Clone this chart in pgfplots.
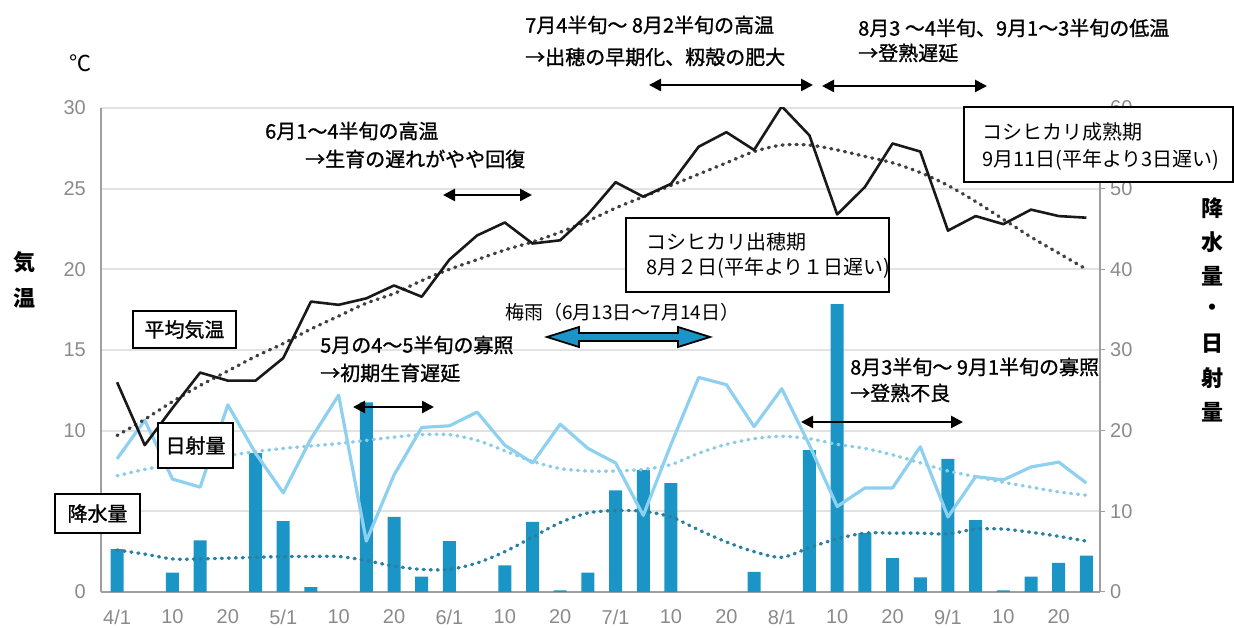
\documentclass[border=0pt]{standalone}
\usepackage{fontspec}
\setmainfont{Liberation Sans}
\newfontfamily\jp{Noto Sans CJK JP}
\newfontfamily\jpm[FakeBold=1.1]{Noto Sans CJK JP}
\usepackage{pgfplots}
\pgfplotsset{compat=1.18}
\usetikzlibrary{arrows.meta}
\definecolor{barblue}{HTML}{1A95C5}
\definecolor{lightblue}{HTML}{8ED0F0}
\definecolor{lbdot}{HTML}{8CCDE6}
\definecolor{dkdot}{HTML}{2A80A0}
\definecolor{ticklab}{HTML}{8A8A8A}
\definecolor{gridc}{HTML}{E2E2E2}
\tikzset{
  mydots/.style={solid, line width=3.4pt, dash pattern=on 1pt off 6pt, line cap=round},
  ann/.style={anchor=west, inner sep=0pt, font=\jpm\fontsize{20pt}{24pt}\selectfont},
  darr/.style={{Triangle[length=12pt,width=12pt]}-{Triangle[length=12pt,width=12pt]}, line width=2.6pt, black},
  lbox/.style={draw=black, line width=1.5pt, fill=white},
}
\pgfplotsset{
  base/.style={scale only axis, width=999pt, height=484pt, at={(101pt,36pt)}, anchor=south west,
    xmin=-0.58, xmax=35.49, ymin=0,
    /pgf/number format/assume math mode=true,
    ticklabel style={font=\fontsize{20pt}{24pt}\selectfont, text=ticklab},
  }
}
\begin{document}
\begin{tikzpicture}
\path[use as bounding box] (0,0) rectangle (1234pt,628pt);
% right axis: precipitation and solar radiation
\begin{axis}[base, ymax=60,
  axis y line*=right, axis x line*=bottom,
  axis line style={draw=gray!75, line width=1.3pt},
  ytick={0,10,...,60}, ymajorgrids, grid style={draw=gridc, line width=1.8pt},
  ytick style={draw=gray!75, line width=1pt}, major tick length=5pt, tick align=outside,
  yticklabel style={anchor=west, inner sep=0pt, xshift=5pt},
  xtick={0,2,...,34}, xtick style={draw=none},
  xticklabels={4/1,10,20,5/1,10,20,6/1,10,20,7/1,10,20,8/1,10,20,9/1,10,20},
  xticklabel style={anchor=center, inner sep=0pt, yshift=-20pt},
]
\addplot[ybar, bar width=13pt, fill=barblue, draw=none] coordinates {
 (0,5.3) (2,2.4) (3,6.4) (5,17.2) (6,8.8) (7,0.6) (9,23.5) (10,9.3) (11,1.9) (12,6.3)
 (14,3.3) (15,8.7) (16,0.2) (17,2.4) (18,12.6) (19,15.1) (20,13.5) (23,2.5) (25,17.6)
 (26,35.7) (27,7.3) (28,4.2) (29,1.8) (30,16.5) (31,8.9) (32,0.2) (33,1.9) (34,3.6) (35,4.5)};
% solar radiation normal
\addplot[lbdot, mydots, smooth] coordinates {
 (0,14.4) (1,15.2) (2,15.8) (3,16.3) (4,16.9) (5,17.4) (6,17.8) (7,18.1) (8,18.4) (9,18.8)
 (10,19.2) (11,19.5) (12,19.5) (13,18.8) (14,17.5) (15,16.2) (16,15.3) (17,15.0) (18,15.0)
 (19,15.2) (20,15.8) (21,17.2) (22,18.3) (23,19.0) (24,19.3) (25,19.0) (26,18.3) (27,17.8)
 (28,17.0) (29,16.0) (30,15.0) (31,14.3) (32,13.6) (33,13.0) (34,12.4) (35,12.0)};
% precipitation normal
\addplot[dkdot, mydots, smooth] coordinates {
 (0,5.2) (1,4.7) (2,4.1) (3,4.1) (4,4.2) (5,4.3) (6,4.4) (7,4.4) (8,4.4) (9,3.9)
 (10,3.2) (11,2.8) (12,2.8) (13,3.6) (14,5.0) (15,6.8) (16,8.6) (17,9.8) (18,10.1)
 (19,10.0) (20,9.3) (21,7.7) (22,6.2) (23,5.0) (24,4.3) (25,5.5) (26,6.6) (27,7.3)
 (28,7.3) (29,7.3) (30,7.2) (31,7.8) (32,7.8) (33,7.4) (34,6.9) (35,6.3)};
% solar radiation
\addplot[lightblue, line width=3.2pt, line join=round] coordinates {
 (0,16.5) (1,21.3) (2,14.0) (3,13.0) (4,23.2) (5,17.2) (6,12.3) (7,19.0) (8,24.4) (9,6.3)
 (10,14.5) (11,20.4) (12,20.6) (13,22.3) (14,18.2) (15,16.0) (16,20.8) (17,17.8) (18,16.0)
 (19,9.5) (20,18.3) (21,26.6) (22,25.7) (23,20.5) (24,25.2) (25,18.2) (26,10.6) (27,12.9)
 (28,12.9) (29,18.0) (30,9.3) (31,14.3) (32,13.9) (33,15.5) (34,16.1) (35,13.5)};
\end{axis}
% left axis: temperature
\begin{axis}[base, ymax=30,
  axis y line*=left, axis x line=none,
  axis line style={draw=gray!75, line width=1.3pt},
  ytick={0,10,15,20,25,30}, major tick length=0pt,
  yticklabel style={anchor=east, inner sep=0pt, xshift=-15pt},
  xtick=\empty,
]
\addplot[black!75, mydots, smooth] coordinates {
 (0,9.7) (1,10.7) (2,11.8) (3,12.8) (4,13.7) (5,14.6) (6,15.4) (7,16.3) (8,17.1) (9,17.9)
 (10,18.5) (11,19.3) (12,20.0) (13,20.6) (14,21.2) (15,21.7) (16,22.3) (17,23.0) (18,23.8)
 (19,24.5) (20,25.2) (21,25.9) (22,26.6) (23,27.3) (24,27.7) (25,27.7) (26,27.4) (27,27.0)
 (28,26.6) (29,26.0) (30,25.2) (31,24.2) (32,23.1) (33,22.0) (34,21.0) (35,20.0)};
\addplot[black!90, line width=2.6pt, line join=round] coordinates {
 (0,13.0) (1,9.1) (2,11.4) (3,13.6) (4,13.1) (5,13.1) (6,14.5) (7,18.0) (8,17.8) (9,18.2)
 (10,19.0) (11,18.3) (12,20.6) (13,22.1) (14,22.9) (15,21.6) (16,21.8) (17,23.4) (18,25.4)
 (19,24.5) (20,25.3) (21,27.6) (22,28.5) (23,27.4) (24,30.1) (25,28.3) (26,23.4) (27,25.1)
 (28,27.8) (29,27.3) (30,22.4) (31,23.3) (32,22.8) (33,23.7) (34,23.3) (35,23.2)};
\end{axis}
% axis titles
\node[font=\jp\fontsize{22pt}{24pt}\selectfont] at (80pt,565pt) {℃};
\node[font=\jp\bfseries\fontsize{22pt}{24pt}\selectfont] at (24pt,366pt) {気};
\node[font=\jp\bfseries\fontsize{22pt}{24pt}\selectfont] at (24pt,330pt) {温};
\foreach \c/\yy in {降/420,水/386,量/352,・/318,日/284,射/250,量/216}
  \node[font=\jp\bfseries\fontsize{22pt}{24pt}\selectfont] at (1212pt,\yy pt) {\c};
% annotations
\node[ann] at (525pt,603pt) {7月4半旬～ 8月2半旬の高温};
\node[ann] at (525pt,571pt) {→出穂の早期化、籾殻の肥大};
\draw[darr] (649pt,543pt) -- (813pt,543pt);
\node[ann] at (858pt,600pt) {8月3 ～4半旬、9月1～3半旬の低温};
\node[ann] at (858pt,575pt) {→登熟遅延};
\draw[darr] (822pt,542pt) -- (987pt,542pt);
\node[ann] at (265pt,497pt) {6月1～4半旬の高温};
\node[ann] at (305pt,469pt) {→生育の遅れがやや回復};
\draw[darr] (443pt,433pt) -- (532pt,433pt);
\draw[lbox] (964pt,521pt) rectangle (1233pt,446pt);
\node[ann, font=\jp\fontsize{20pt}{24pt}\selectfont] at (982pt,496pt) {コシヒカリ成熟期};
\node[ann, font=\jp\fontsize{20pt}{24pt}\selectfont] at (982pt,468pt) {9月11日(平年より3日遅い)};
\draw[lbox] (626pt,410pt) rectangle (889pt,336pt);
\node[ann, font=\jp\fontsize{20pt}{24pt}\selectfont] at (646pt,386pt) {コシヒカリ出穂期};
\node[ann, font=\jp\fontsize{20pt}{24pt}\selectfont] at (646pt,360pt) {8月２日(平年より１日遅い)};
\node[ann, font=\jp\fontsize{19pt}{22pt}\selectfont] at (505pt,316pt) {梅雨（6月13日～7月14日）};
\draw[line width=1.8pt, fill=barblue, line join=miter]
  (547pt,291pt) -- (579pt,301pt) -- (579pt,295pt) -- (678pt,295pt) -- (678pt,301pt) -- (710pt,291pt)
  -- (678pt,281pt) -- (678pt,287pt) -- (579pt,287pt) -- (579pt,281pt) -- cycle;
\node[ann] at (320pt,283pt) {5月の4～5半旬の寡照};
\node[ann] at (320pt,255pt) {→初期生育遅延};
\draw[darr] (353pt,221pt) -- (434pt,221pt);
\node[ann] at (850pt,261pt) {8月3半旬～ 9月1半旬の寡照};
\node[ann] at (850pt,235pt) {→登熟不良};
\draw[darr] (801pt,206pt) -- (963pt,206pt);
% series labels
\draw[lbox] (133pt,317pt) rectangle (236pt,280pt);
\node[font=\jpm\fontsize{20pt}{24pt}\selectfont] at (184.5pt,298.5pt) {平均気温};
\draw[lbox] (158pt,205pt) rectangle (233pt,160pt);
\node[font=\jpm\fontsize{20pt}{24pt}\selectfont] at (195.5pt,182.5pt) {日射量};
\draw[lbox] (55pt,134pt) rectangle (140pt,95pt);
\node[font=\jpm\fontsize{20pt}{24pt}\selectfont] at (97.5pt,114.5pt) {降水量};
\end{tikzpicture}
\end{document}
